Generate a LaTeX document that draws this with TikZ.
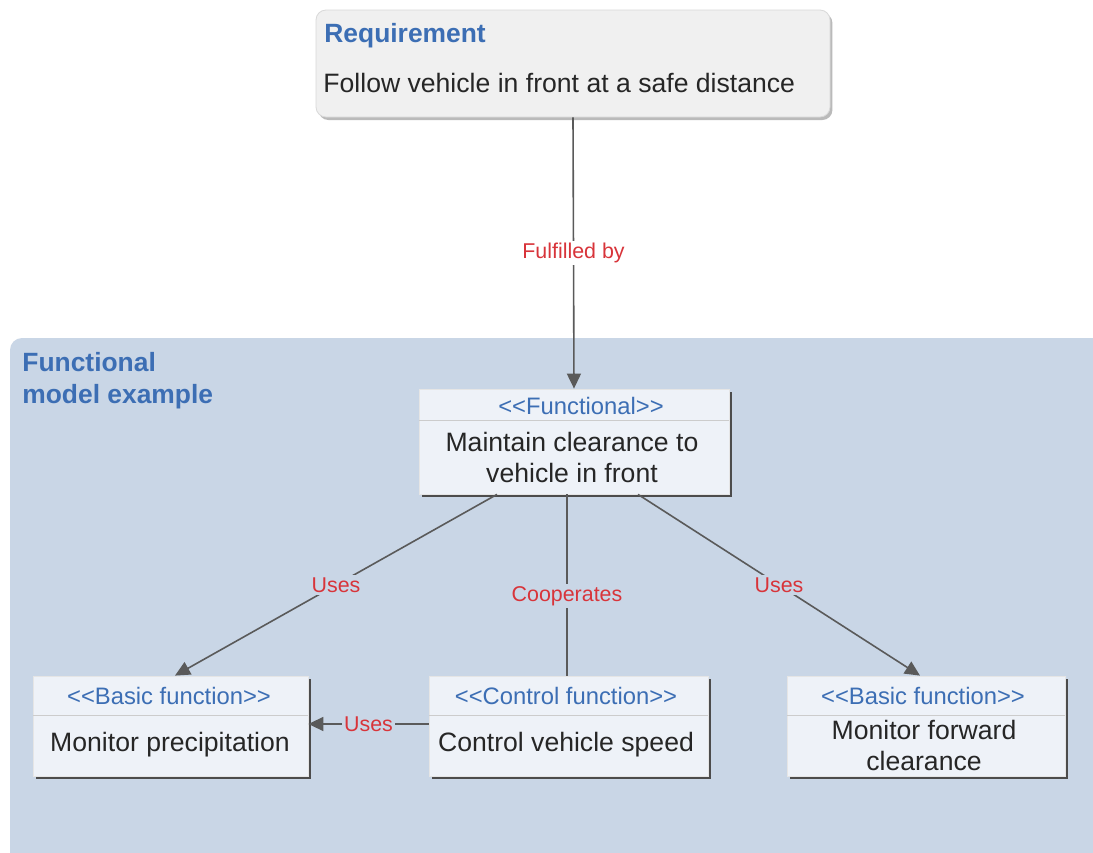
\documentclass[tikz,border=0pt]{standalone}
\usepackage{fontspec}
\setmainfont{Liberation Sans}
\usetikzlibrary{arrows.meta,positioning,calc,shadows}

\definecolor{modelbg}{HTML}{C9D6E6}
\definecolor{boxfill}{HTML}{EEF2F8}
\definecolor{reqfill}{HTML}{F0F0F0}
\definecolor{titleblue}{HTML}{3C6EB4}
\definecolor{linkred}{HTML}{D8343A}
\definecolor{linkgray}{HTML}{5A5A5A}

\begin{document}
\begin{tikzpicture}[x=0.5pt, y=-0.5pt,
    reqbox/.style={fill=reqfill, draw=gray!30, rounded corners=5pt,
        drop shadow={shadow xshift=1.2pt, shadow yshift=-1.5pt, fill=black!45, opacity=0.6}},
    funcbox/.style={fill=boxfill, draw=gray!20,
        drop shadow={shadow xshift=1.3pt, shadow yshift=-1.3pt, fill=black!70, opacity=1}},
    title/.style={font=\fontsize{13.2}{16}\selectfont\bfseries, text=titleblue, align=left, inner sep=0pt},
    stereo/.style={font=\fontsize{11.9}{13}\selectfont, text=titleblue, inner sep=0pt},
    body/.style={font=\fontsize{13.3}{15.5}\selectfont, text=black!85, align=center, inner sep=0pt},
    link/.style={draw=linkgray, line width=0.8pt},
    arr/.style={link, -{Triangle[length=7.5pt, width=7pt]}},
    lbl/.style={font=\fontsize{10.7}{12}\selectfont, text=linkred, fill=modelbg, inner sep=1.2pt}
]

\clip (0,0) rectangle (1093,852);
\fill[white] (0,0) rectangle (1093,852);

% Requirement
\node[reqbox, minimum width=257pt, minimum height=53.5pt] (req) at (573,63.5) {};
\node[title, anchor=west] (reqtitle) at (324,36) {Requirement};
\node[body, anchor=west] (reqtext) at (323,83) {Follow vehicle in front at a safe distance};

% Functional model area
\fill[modelbg, rounded corners=6pt] (10,338) rectangle (1120,880);
\node[title, anchor=north west] (modeltitle) at (22,352) {Functional\\model example};

% Function boxes
\node[funcbox, minimum width=155pt, minimum height=52.5pt] (func) at (574,441.5) {};
\node[funcbox, minimum width=137.5pt, minimum height=50pt] (basicl) at (170.5,726) {};
\node[funcbox, minimum width=139.5pt, minimum height=50pt] (ctrl) at (568.5,726) {};
\node[funcbox, minimum width=139pt, minimum height=50pt] (basicr) at (926,726) {};

% Compartment lines
\draw[gray!40] ($(func.north west)+(0,32)$) -- ($(func.north east)+(0,32)$);
\draw[gray!40] ($(basicl.north west)+(0,40)$) -- ($(basicl.north east)+(0,40)$);
\draw[gray!40] ($(ctrl.north west)+(0,40)$) -- ($(ctrl.north east)+(0,40)$);
\draw[gray!40] ($(basicr.north west)+(0,40)$) -- ($(basicr.north east)+(0,40)$);

% Stereotypes and names
\node[stereo] (funcst) at (581,406) {<{}<Functional>{}>};
\node[body] (functext) at (572,457) {Maintain clearance to\\vehicle in front};
\node[stereo] (basiclst) at (169,696) {<{}<Basic function>{}>};
\node[body] (basicltext) at (170,745) {Monitor precipitation};
\node[stereo] (ctrlst) at (566,696) {<{}<Control function>{}>};
\node[body] (ctrltext) at (566,745) {Control vehicle speed};
\node[stereo] (basicrst) at (923,696) {<{}<Basic function>{}>};
\node[body] (basicrtext) at (924,745) {Monitor forward\\clearance};

% Connectors
\draw[arr] (req.south) -- node[lbl, fill=white] {Fulfilled by} (func.north);
\draw[arr] ($(func.south)+(-77,0)$) -- node[lbl] {Uses} ($(basicl.north)+(4.5,0)$);
\draw[link] ($(func.south)+(-7,0)$) -- node[lbl, pos=0.56] {Cooperates} ($(ctrl.north)+(-1.5,0)$);
\draw[arr] ($(func.south)+(64,0)$) -- node[lbl] {Uses} ($(basicr.north)+(-6,0)$);
\draw[arr] ($(ctrl.west)+(0,-2)$) -- node[lbl] {Uses} ($(basicl.east)+(0,-2)$);

\end{tikzpicture}
\end{document}
